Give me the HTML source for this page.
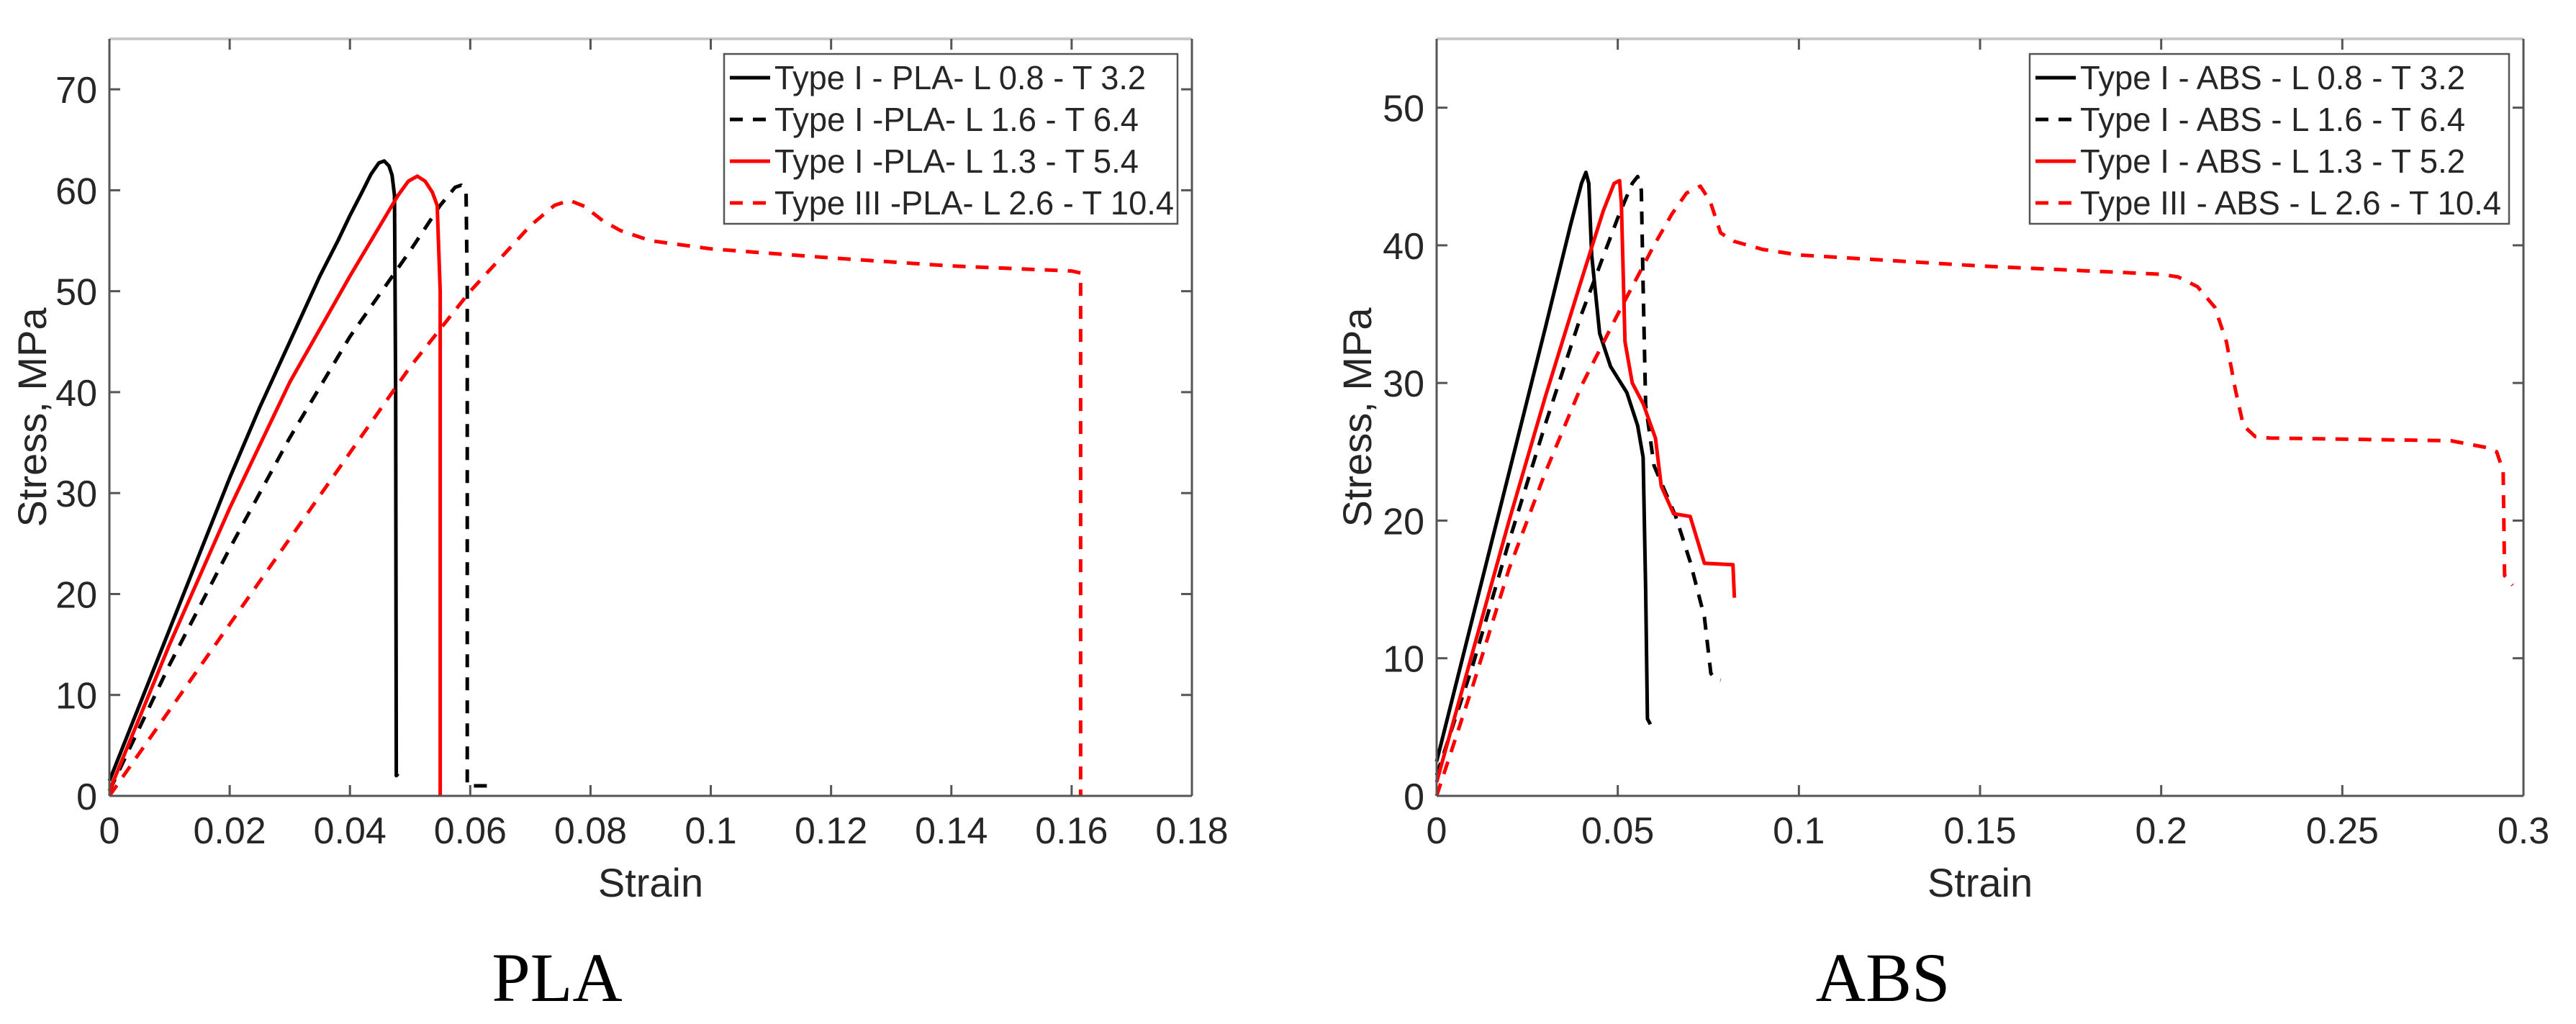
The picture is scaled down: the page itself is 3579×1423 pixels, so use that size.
<!DOCTYPE html>
<html><head><meta charset="utf-8"><style>
html,body{margin:0;padding:0;background:#fff;width:3579px;height:1423px;overflow:hidden}
svg{display:block}
text{font-family:"Liberation Sans",Arial,sans-serif;fill:#262626}
</style></head><body>
<svg id="fig" xmlns="http://www.w3.org/2000/svg" width="3579" height="1423" viewBox="0 0 3579 1423"></svg>
<script>
// ---- PLA data ----
const plaXTicks = [0,0.02,0.04,0.06,0.08,0.1,0.12,0.14,0.16,0.18];
const plaXTickLabels = ["0","0.02","0.04","0.06","0.08","0.1","0.12","0.14","0.16","0.18"];
const plaYTicks = [0,10,20,30,40,50,60,70];
const plaLegend = ["Type I - PLA- L 0.8 - T 3.2","Type I -PLA- L 1.6 - T 6.4","Type I -PLA- L 1.3 - T 5.4","Type III -PLA- L 2.6 - T 10.4"];
const plaS1 = [[0,1.5],[0.005,9],[0.01,16.5],[0.015,24],[0.02,31.5],[0.025,38.5],[0.03,45],[0.035,51.5],[0.038,55],[0.04,57.5],[0.042,59.8],[0.0435,61.6],[0.0448,62.7],[0.0457,62.9],[0.0465,62.4],[0.047,61.5],[0.0474,59.5],[0.0476,40],[0.0477,2],[0.048,2.2]];
const plaS2 = [[0,0.5],[0.01,13],[0.02,24.5],[0.03,35.5],[0.04,45.5],[0.05,54],[0.055,58.5],[0.0575,60.3],[0.0585,60.5],[0.0593,60],[0.0595,50],[0.0595,1],[0.063,1]];
const plaS3 = [[0,0.5],[0.01,15],[0.02,28.5],[0.03,41],[0.04,51.5],[0.045,56.5],[0.048,59.5],[0.0497,60.9],[0.0512,61.4],[0.0525,60.9],[0.0537,59.8],[0.0545,58.5],[0.055,50],[0.055,0]];
const plaS4 = [[0,0],[0.01,8.5],[0.02,17],[0.03,25.5],[0.04,34],[0.05,42.5],[0.06,50],[0.07,56.5],[0.074,58.5],[0.0765,59],[0.079,58.4],[0.082,57],[0.085,56],[0.09,55],[0.1,54.2],[0.12,53.3],[0.14,52.5],[0.16,52],[0.1615,51.8],[0.1615,0]];
// ---- ABS data ----
const absXTicks = [0,0.05,0.1,0.15,0.2,0.25,0.3];
const absXTickLabels = ["0","0.05","0.1","0.15","0.2","0.25","0.3"];
const absYTicks = [0,10,20,30,40,50];
const absLegend = ["Type I - ABS - L 0.8 - T 3.2","Type I - ABS - L 1.6 - T 6.4","Type I - ABS - L 1.3 - T 5.2","Type III - ABS - L 2.6 - T 10.4"];
const absS1 = [[0,2.5],[0.01,13],[0.02,23.5],[0.03,34],[0.037,41.5],[0.04,44.5],[0.0412,45.3],[0.042,44.5],[0.0428,39.3],[0.045,33.6],[0.048,31.2],[0.0525,29.3],[0.0555,26.9],[0.057,24.6],[0.0577,15],[0.0582,5.6],[0.059,5.2]];
const absS2 = [[0,1.5],[0.01,9.5],[0.02,18.5],[0.03,27],[0.04,35],[0.05,42],[0.054,44.5],[0.0555,45],[0.0565,44],[0.057,37],[0.0577,28.4],[0.06,24],[0.066,20.3],[0.07,17],[0.0739,13],[0.0757,8.9],[0.077,8.5],[0.0784,8.4]];
const absS3 = [[0,1],[0.01,10.5],[0.02,20],[0.03,29],[0.04,37.5],[0.046,42.5],[0.049,44.5],[0.0505,44.7],[0.051,43],[0.052,33],[0.054,30],[0.057,28.5],[0.0604,26],[0.062,22.5],[0.0654,20.5],[0.070,20.3],[0.0739,16.9],[0.0818,16.8],[0.0822,14.4]];
const absS4 = [[0,0],[0.01,8],[0.02,16.5],[0.03,23.5],[0.04,29.8],[0.05,35],[0.06,40],[0.065,42.3],[0.069,43.8],[0.0728,44.3],[0.0755,43.2],[0.0784,40.9],[0.082,40.3],[0.09,39.7],[0.1,39.3],[0.15,38.5],[0.2,37.9],[0.2047,37.7],[0.21,37],[0.2148,35.5],[0.218,33],[0.2205,29.5],[0.2227,26.9],[0.226,26.1],[0.23,26],[0.28,25.8],[0.29,25.3],[0.2926,25],[0.2944,23.6],[0.2948,16],[0.297,15.3]];

const NS = "http://www.w3.org/2000/svg";
const svg = document.getElementById('fig');
function mk(tag, attrs, parent){
  const e = document.createElementNS(NS, tag);
  for (const k in attrs) e.setAttribute(k, attrs[k]);
  (parent||svg).appendChild(e);
  return e;
}
const styles = [
  {stroke:'#000', dash:null},
  {stroke:'#000', dash:'18 14'},
  {stroke:'#ff0000', dash:null},
  {stroke:'#ff0000', dash:'18 14'}
];

function drawPanel(cfg){
  const g = mk('g', {});
  
  
  const sx = v => cfg.x0 + (v - cfg.xmin) / (cfg.xmax - cfg.xmin) * (cfg.x1 - cfg.x0);
  const sy = v => cfg.y0 - (v - cfg.ymin) / (cfg.ymax - cfg.ymin) * (cfg.y0 - cfg.y1);
  cfg.series.forEach((s, i) => {
    const d = s.map((p, j) => (j ? 'L' : 'M') + sx(p[0]).toFixed(1) + ',' + sy(p[1]).toFixed(1)).join(' ');
    const a = {d: d, fill: 'none', stroke: styles[i].stroke, 'stroke-width': 5, 'stroke-linejoin': 'round'};
    if (styles[i].dash) a['stroke-dasharray'] = styles[i].dash;
    const p = mk('path', a, g);
    
    
  });
  const top = mk('line', {x1: cfg.x0, y1: cfg.y1, x2: cfg.x1, y2: cfg.y1, stroke: '#c8c8c8', 'stroke-width': 4}, g);
  
  
  const left = mk('line', {x1: cfg.x0, y1: cfg.y1, x2: cfg.x0, y2: cfg.y0, stroke: '#555', 'stroke-width': 3}, g);
  
  
  const bottom = mk('line', {x1: cfg.x0, y1: cfg.y0, x2: cfg.x1, y2: cfg.y0, stroke: '#555', 'stroke-width': 3}, g);
  
  
  const right = mk('line', {x1: cfg.x1, y1: cfg.y1, x2: cfg.x1, y2: cfg.y0, stroke: '#555', 'stroke-width': 3}, g);
  
  
  cfg.xTicks.forEach((t, i) => {
    const x = sx(t);
    mk('line', {x1: x, y1: cfg.y0, x2: x, y2: cfg.y0 - 15, stroke: '#555', 'stroke-width': 3}, g);
    mk('line', {x1: x, y1: cfg.y1, x2: x, y2: cfg.y1 + 15, stroke: '#555', 'stroke-width': 3}, g);
    const tx = mk('text', {x: x, y: cfg.y0 + 66, 'font-size': 52, 'text-anchor': 'middle'}, g);
    tx.textContent = cfg.xTickLabels[i];
    
    
  });
  cfg.yTicks.forEach(t => {
    const y = sy(t);
    mk('line', {x1: cfg.x0, y1: y, x2: cfg.x0 + 15, y2: y, stroke: '#555', 'stroke-width': 3}, g);
    mk('line', {x1: cfg.x1, y1: y, x2: cfg.x1 - 15, y2: y, stroke: '#555', 'stroke-width': 3}, g);
    const ty = mk('text', {x: cfg.x0 - 17, y: y + 19, 'font-size': 52, 'text-anchor': 'end'}, g);
    ty.textContent = String(t);
    
    
  });
  const xt = mk('text', {x: (cfg.x0 + cfg.x1) / 2, y: cfg.y0 + 140, 'font-size': 56, 'text-anchor': 'middle'}, g);
  xt.textContent = 'Strain';
  
  
  const yt = mk('text', {x: 0, y: 0, 'font-size': 56, 'text-anchor': 'middle', transform: 'translate(' + (cfg.ytx) + ',580) rotate(-90)'}, g);
  yt.textContent = 'Stress, MPa';
  
  
  const lg = mk('g', {}, g);
  
  
  mk('rect', {x: cfg.lx0, y: 75, width: cfg.lx1 - cfg.lx0, height: 236, fill: '#fff', stroke: '#555', 'stroke-width': 2.5}, lg);
  cfg.legend.forEach((lab, i) => {
    const cy = 108 + i * 58;
    const la = {x1: cfg.lx0 + 8, y1: cy, x2: cfg.lx0 + 64, y2: cy, stroke: styles[i].stroke, 'stroke-width': 5};
    if (styles[i].dash) la['stroke-dasharray'] = '18 14';
    const ln = mk('line', la, lg);
    
    
    const t = mk('text', {x: cfg.lx0 + 70, y: cy + 16, 'font-size': 46, textLength: cfg.legendWidths[i], lengthAdjust: 'spacingAndGlyphs', fill: '#000'}, lg);
    t.textContent = lab;
    
    
  });
  const cap = mk('text', {x: cfg.capx, y: 1391, 'font-size': 96, 'text-anchor': 'middle', style: 'font-family:"Liberation Serif",serif;fill:#000'}, g);
  cap.textContent = cfg.caption;
  
  
}

drawPanel({name: 'pla', x0: 152, x1: 1656, y0: 1106, y1: 54, xmin: 0, xmax: 0.18, ymin: 0, ymax: 75,
  xTicks: plaXTicks, xTickLabels: plaXTickLabels, yTicks: plaYTicks, legend: plaLegend,
  series: [plaS1, plaS2, plaS3, plaS4], ytx: 64, lx0: 1006, lx1: 1636,
  legendWidths: [516, 506, 506, 555], capx: 774, caption: 'PLA'});
drawPanel({name: 'abs', x0: 1996, x1: 3506, y0: 1106, y1: 54, xmin: 0, xmax: 0.3, ymin: 0, ymax: 55,
  xTicks: absXTicks, xTickLabels: absXTickLabels, yTicks: absYTicks, legend: absLegend,
  series: [absS1, absS2, absS3, absS4], ytx: 1905, lx0: 2820, lx1: 3486,
  legendWidths: [535, 535, 535, 585], capx: 2616, caption: 'ABS'});
</script>
</body></html>
